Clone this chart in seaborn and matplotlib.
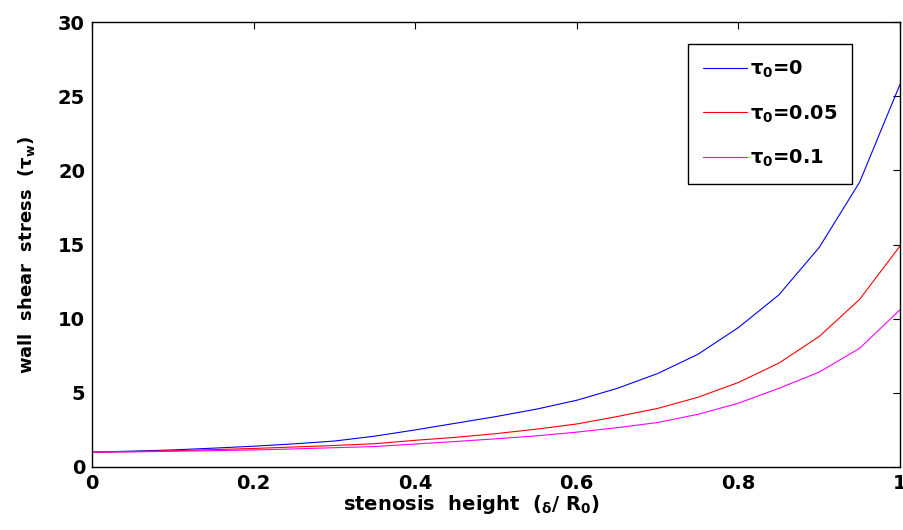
import numpy as np
import pandas as pd
import matplotlib
matplotlib.use("Agg")
import matplotlib.pyplot as plt
import seaborn as sns

# stenosis height (delta / R0)
delta = [0.0, 0.05, 0.1, 0.15, 0.2, 0.25, 0.3, 0.35, 0.4, 0.45, 0.5,
         0.55, 0.6, 0.65, 0.7, 0.75, 0.8, 0.85, 0.9, 0.95, 1.0]

# wall shear stress for each yield stress tau0
tau_0 = [1.0, 1.07, 1.15, 1.27, 1.4, 1.56, 1.75, 2.08, 2.5, 2.95, 3.4,
         3.9, 4.5, 5.3, 6.3, 7.6, 9.4, 11.6, 14.8, 19.2, 25.8]
tau_005 = [1.0, 1.04, 1.1, 1.17, 1.25, 1.35, 1.45, 1.57, 1.8, 2.0, 2.25,
           2.55, 2.9, 3.4, 3.95, 4.7, 5.7, 7.0, 8.8, 11.3, 14.9]
tau_01 = [1.0, 1.02, 1.06, 1.1, 1.15, 1.22, 1.3, 1.38, 1.55, 1.72, 1.9,
          2.1, 2.35, 2.65, 3.0, 3.55, 4.3, 5.3, 6.4, 8.0, 10.6]

labels = [r"$\tau_0$=0", r"$\tau_0$=0.05", r"$\tau_0$=0.1"]
colors = ["#0000ff", "#ff0000", "#ff00ff"]

df = pd.DataFrame({
    "delta": delta * 3,
    "tw": tau_0 + tau_005 + tau_01,
    "serie": [labels[0]] * len(delta) + [labels[1]] * len(delta) + [labels[2]] * len(delta),
})

sns.set_style("white")
plt.rcParams["font.family"] = ["DejaVu Sans"]
plt.rcParams["font.weight"] = "bold"
plt.rcParams["text.color"] = "black"
plt.rcParams["axes.labelcolor"] = "black"
plt.rcParams["mathtext.fontset"] = "custom"
plt.rcParams["mathtext.rm"] = "DejaVu Sans:bold"
plt.rcParams["mathtext.it"] = "DejaVu Sans:bold"
plt.rcParams["mathtext.bf"] = "DejaVu Sans:bold"

fig = plt.figure(figsize=(9.04, 5.30), dpi=100)
ax = fig.add_axes([92 / 904, 1 - 467 / 530, 808 / 904, 445 / 530])

sns.lineplot(data=df, x="delta", y="tw", hue="serie", palette=colors,
             linewidth=0.8, ax=ax, legend=False)

ax.set_xlim(0, 1)
ax.set_ylim(0, 30)
ax.set_xticks([0, 0.2, 0.4, 0.6, 0.8, 1])
ax.set_xticklabels(["0", "0.2", "0.4", "0.6", "0.8", "1"])
ax.set_yticks([0, 5, 10, 15, 20, 25, 30])
ax.tick_params(direction="in", length=5, width=0.8, top=True, right=True,
               labelsize=14, colors="black", pad=5)
for lab in ax.get_xticklabels() + ax.get_yticklabels():
    lab.set_fontweight("bold")
for sp in ax.spines.values():
    sp.set_color("black")
    sp.set_linewidth(1.0)

ax.set_xlabel(r"stenosis  height  ($_\delta$/ R$_0$)", fontsize=14,
              fontweight="bold", color="black")
ax.xaxis.set_label_coords(0.47, -0.058)
ax.set_ylabel(r"wall  shear  stress  ($\tau_w$)", fontsize=13,
              fontweight="bold", color="black")
ax.yaxis.set_label_coords(-0.068, 0.476)

handles = [plt.Line2D([], [], color=c, linewidth=0.8) for c in colors]
leg = ax.legend(handles, labels, loc="upper left",
                bbox_to_anchor=(688 / 904, 1 - 44 / 530),
                bbox_transform=fig.transFigure, borderaxespad=0,
                fontsize=14, handlelength=2.3, handletextpad=0.15,
                labelspacing=1.2, borderpad=0.75, fancybox=False,
                framealpha=1, edgecolor="black")
leg.get_frame().set_linewidth(1.0)
for t in leg.get_texts():
    t.set_fontweight("bold")
    t.set_color("black")

fig.savefig("out.png", dpi=100)
